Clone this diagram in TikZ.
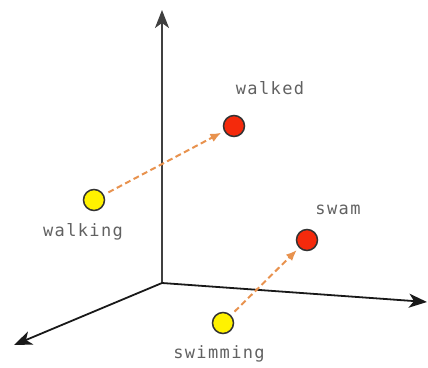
\documentclass[tikz,border=0pt]{standalone}
\usepackage{fontspec}
\usepackage{tikz}
\usetikzlibrary{arrows.meta,positioning,calc}
\newfontfamily\lblfont[LetterSpace=8]{DejaVu Sans Mono}
\definecolor{dotyellow}{HTML}{FFF200}
\definecolor{dotred}{HTML}{F42A0C}
\definecolor{shiftorange}{HTML}{E8924E}
\tikzset{
	axis/.style={-{Stealth[length=18bp,width=14bp,inset=5bp]}, line width=1.8bp, black!90},
	word/.style={circle, draw=black!80, line width=1.5bp, minimum size=21bp, inner sep=0pt},
	tensearrow/.style={-{Latex[length=11bp,width=9bp]}, dash pattern=on 6bp off 3.5bp,
		line width=2bp, shiftorange, shorten <=5bp, shorten >=3bp},
	lbl/.style={font=\lblfont\fontsize{17bp}{20bp}\selectfont, text=black!62,
		text height=12bp, text depth=3.5bp, inner sep=0pt}
}
\begin{document}
\begin{tikzpicture}[x=1bp, y=1bp]
	\useasboundingbox (0,0) rectangle (428,368);
	
	%% -- Axes
	\coordinate (origin) at (162,85);
	\coordinate (ytip)   at (162,358);
	\coordinate (xtip)   at (427,66);
	\coordinate (ztip)   at (14,23);
	\draw[axis, black!75] (origin) -- (ytip);
	\draw[axis] (origin) -- (xtip);
	\draw[axis] (origin) -- (ztip);
	
	%% -- Word points
	\node[word, fill=dotyellow] (walking)  at (94,168)  {};
	\node[word, fill=dotred]    (walked)   at (234,242) {};
	\node[word, fill=dotred]    (swam)     at (307,128) {};
	\node[word, fill=dotyellow] (swimming) at (223,45)  {};
	
	%% -- Labels
	\node[lbl] (walkinglbl)  at (83,136)  {walking};
	\node[lbl] (walkedlbl)   at (270,278) {walked};
	\node[lbl] (swamlbl)     at (338,158) {swam};
	\node[lbl] (swimminglbl) at (219,14)  {swimming};
	
	%% -- Tense shifts
	\draw[tensearrow] (walking) -- (walked);
	\draw[tensearrow] (swimming) -- (swam);
	
\end{tikzpicture}
\end{document}
